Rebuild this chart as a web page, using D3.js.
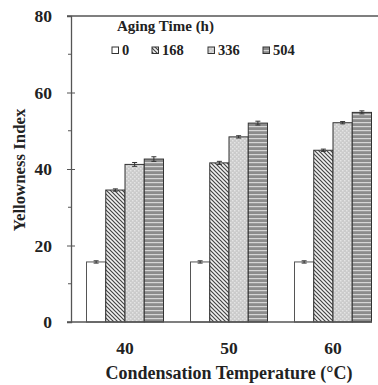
<!DOCTYPE html>
<html>
<head>
<meta charset="utf-8">
<script src="https://cdn.jsdelivr.net/npm/d3@7"></script>
<style>
  html, body { margin: 0; padding: 0; background: #fff; }
  svg { display: block; }
  svg text { font-family: 'Liberation Serif', 'Tinos', 'Times New Roman', 'DejaVu Serif', serif; font-weight: bold; fill: #222; }
</style>
</head>
<body>
<svg id="chart" width="378" height="385"></svg>
<script>
// Condensation temperature groups and aging-time series
const temperatures = ["40", "50", "60"];
const agingTimes = ["0", "168", "336", "504"];
const values0   = [15.7, 15.7, 15.7];
const values168 = [34.5, 41.6, 44.9];
const values336 = [41.2, 48.4, 52.1];
const values504 = [42.6, 52.0, 54.8];
const errors0   = [0.3, 0.3, 0.3];
const errors168 = [0.3, 0.4, 0.3];
const errors336 = [0.5, 0.3, 0.3];
const errors504 = [0.6, 0.5, 0.4];
const yTicks = [0, 20, 40, 60, 80];
const yMinorTicks = [10, 30, 50, 70];

const seriesValues = [values0, values168, values336, values504];
const seriesErrors = [errors0, errors168, errors336, errors504];
const fills = ["#ffffff", "url(#hatch)", "url(#dots)", "url(#stripes)"];
const serifFont = "'Liberation Serif', 'Tinos', 'Times New Roman', 'DejaVu Serif', serif";

const svg = d3.select("#chart");
const defs = svg.append("defs");

// diagonal hatching (\\\)
const hatch = defs.append("pattern").attr("id", "hatch")
  .attr("patternUnits", "userSpaceOnUse").attr("width", 4).attr("height", 4);
hatch.append("rect").attr("width", 4).attr("height", 4).attr("fill", "#f2f2f2");
hatch.append("path").attr("d", "M-1,-1 L5,5 M-1,3 L1,5 M3,-1 L5,1")
  .attr("stroke", "#444").attr("stroke-width", 1.2);

// light grey with faint dots
const dots = defs.append("pattern").attr("id", "dots")
  .attr("patternUnits", "userSpaceOnUse").attr("width", 4).attr("height", 4);
dots.append("rect").attr("width", 4).attr("height", 4).attr("fill", "#cbcbcb");
dots.append("rect").attr("x", 0).attr("y", 0).attr("width", 1.5).attr("height", 1.5).attr("fill", "#e4e4e4");
dots.append("rect").attr("x", 2).attr("y", 2).attr("width", 1.5).attr("height", 1.5).attr("fill", "#e4e4e4");

// horizontal stripes
const stripes = defs.append("pattern").attr("id", "stripes")
  .attr("patternUnits", "userSpaceOnUse").attr("width", 4).attr("height", 4);
stripes.append("rect").attr("width", 4).attr("height", 4).attr("fill", "#8c8c8c");
stripes.append("rect").attr("y", 2).attr("width", 4).attr("height", 1.2).attr("fill", "#d6d6d6");

const plotLeft = 71, plotRight = 372, plotTop = 16, plotBottom = 322;

const y = d3.scaleLinear().domain([0, 80]).range([plotBottom, plotTop]);
// group centres at 125, 229, 333
const xg = d3.scaleBand().domain(temperatures).range([73, 385]);
const x1 = d3.scaleBand().domain(agingTimes).range([0, 77]);
const groupOffset = (xg.bandwidth() - 77) / 2;

// bars
const g = svg.append("g");
temperatures.forEach((t, i) => {
  agingTimes.forEach((a, s) => {
    const v = seriesValues[s][i];
    const e = seriesErrors[s][i];
    const bx = xg(t) + groupOffset + x1(a);
    const bw = x1.bandwidth();
    g.append("rect")
      .attr("x", bx).attr("y", y(v))
      .attr("width", bw).attr("height", y(0) - y(v))
      .attr("fill", fills[s])
      .attr("stroke", s === 0 ? "#555" : "#333").attr("stroke-width", 1);
    // error bar
    const cx = bx + bw / 2;
    g.append("line").attr("x1", cx).attr("x2", cx).attr("y1", y(v + e)).attr("y2", y(v - e))
      .attr("stroke", "#333").attr("stroke-width", 1);
    g.append("line").attr("x1", cx - 2.5).attr("x2", cx + 2.5).attr("y1", y(v + e)).attr("y2", y(v + e))
      .attr("stroke", "#333").attr("stroke-width", 1);
    g.append("line").attr("x1", cx - 2.5).attr("x2", cx + 2.5).attr("y1", y(v - e)).attr("y2", y(v - e))
      .attr("stroke", "#333").attr("stroke-width", 1);
  });
});

// frame lines: top and bottom
svg.append("line").attr("x1", 67).attr("x2", 378).attr("y1", y(80)).attr("y2", y(80))
  .attr("stroke", "#555").attr("stroke-width", 1.3);
svg.append("line").attr("x1", 67).attr("x2", plotRight).attr("y1", y(0)).attr("y2", y(0))
  .attr("stroke", "#555").attr("stroke-width", 1.3);

// y axis
const yAxis = d3.axisLeft(y).tickValues(yTicks).tickSize(4).tickPadding(15).tickFormat(d3.format("d"));
const ya = svg.append("g").attr("transform", `translate(${plotLeft},0)`).call(yAxis);
ya.attr("font-family", serifFont).attr("font-size", 17.5).attr("font-weight", "bold");
ya.select(".domain").attr("stroke", "#555").attr("stroke-width", 1.3);
ya.selectAll(".tick line").attr("stroke", "#555").attr("x1", 4).attr("x2", -4);
ya.selectAll(".tick text").attr("font-family", serifFont);
ya.selectAll(".tick")
  .filter(d => d === 0 || d === 80).select("line").attr("x1", 0);
svg.append("g").selectAll("line").data(yMinorTicks).join("line")
  .attr("x1", plotLeft - 3).attr("x2", plotLeft).attr("y1", d => y(d)).attr("y2", d => y(d))
  .attr("stroke", "#555").attr("stroke-width", 1);

// x axis labels
const xa = svg.append("g").attr("transform", `translate(0,${plotBottom})`)
  .call(d3.axisBottom(xg).tickSize(0).tickPadding(20));
xa.attr("font-family", serifFont).attr("font-size", 17.5).attr("font-weight", "bold");
xa.select(".domain").remove();
xa.selectAll(".tick text").attr("font-family", serifFont);

// axis titles
svg.append("text").attr("x", 229).attr("y", 379).attr("text-anchor", "middle")
  .attr("font-family", serifFont).attr("font-size", 18).text("Condensation Temperature (°C)");
svg.append("text").attr("transform", "translate(25,170) rotate(-90)").attr("text-anchor", "middle")
  .attr("font-family", serifFont).attr("font-size", 16.8).text("Yellowness Index");

// legend
svg.append("text").attr("x", 117).attr("y", 30.5)
  .attr("font-family", serifFont).attr("font-size", 15).text("Aging Time (h)");
const legendX = [112, 152, 208, 263];
agingTimes.forEach((a, s) => {
  svg.append("rect").attr("x", legendX[s]).attr("y", 47).attr("width", 6.5).attr("height", 6.5)
    .attr("fill", fills[s]).attr("stroke", "#333").attr("stroke-width", 1);
  svg.append("text").attr("x", legendX[s] + 10).attr("y", 54.5)
    .attr("font-family", serifFont).attr("font-size", 14.5).text(a);
});
</script>
</body>
</html>
